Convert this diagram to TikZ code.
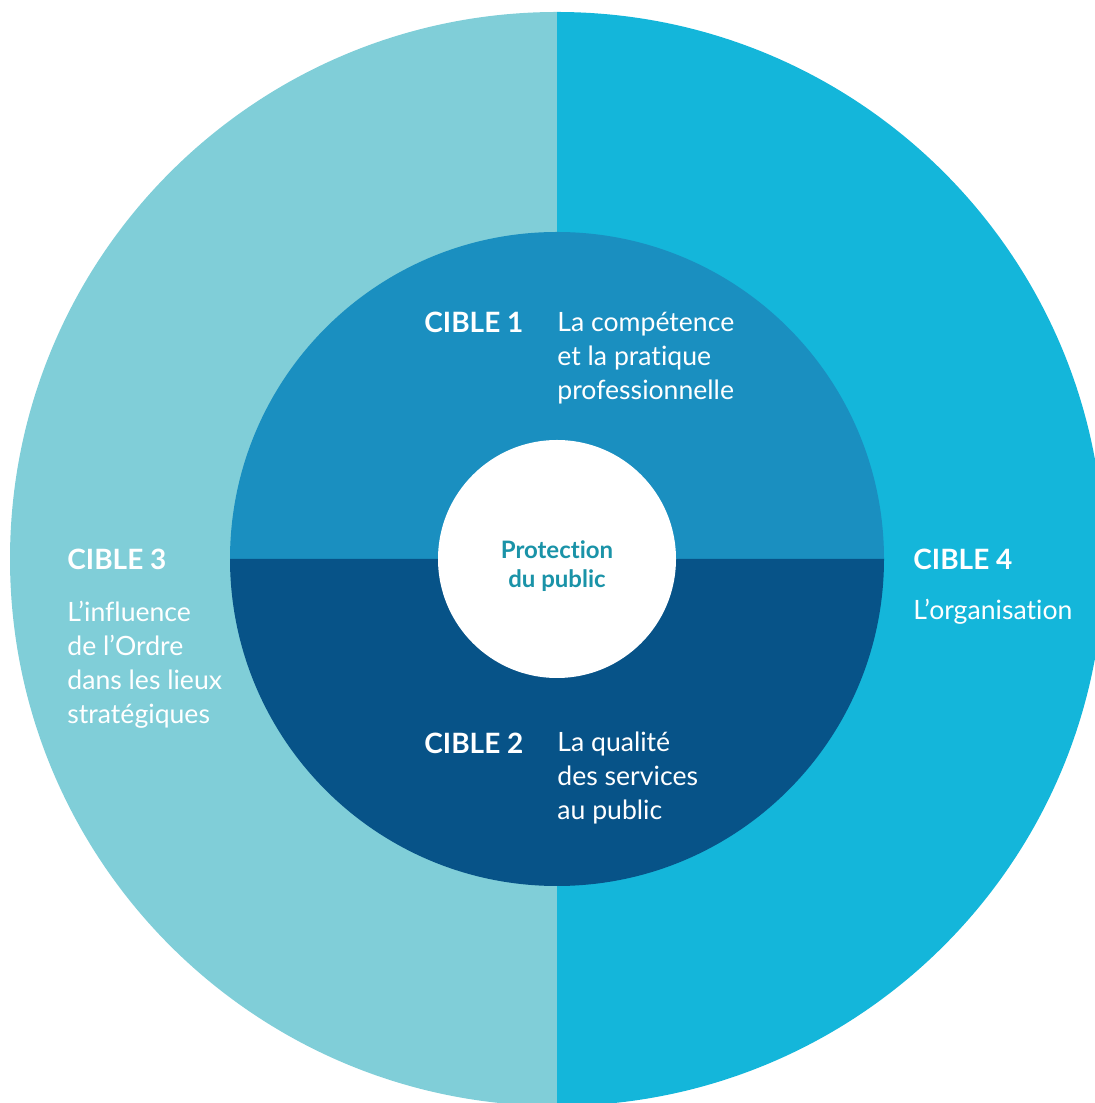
\documentclass[tikz,border=0pt]{standalone}
\usepackage{fontspec}
\setmainfont[RawFeature=-liga]{Lato}
\definecolor{paleteal}{HTML}{80CED8}
\definecolor{brightcyan}{HTML}{14B6DA}
\definecolor{midblue}{HTML}{1A8FC0}
\definecolor{deepblue}{HTML}{075388}
\definecolor{hubtext}{HTML}{1A93A8}
\tikzset{
  cible/.style={anchor=base west, text=white, font=\fontsize{14}{17}\selectfont\bfseries, inner sep=0pt},
  goal/.style={anchor=base west, text=white, align=left, font=\fontsize{13.3}{17}\selectfont, inner sep=0pt},
}
\begin{document}
\begin{tikzpicture}[x=0.5pt,y=0.5pt]
\useasboundingbox (0,0) rectangle (1095,1103);
\clip (0,0) rectangle (1095,1103);
\coordinate (c) at (557,544);
% outer ring
\fill[paleteal] (c) -- ++(90:547) arc[start angle=90,end angle=270,radius=547] -- cycle;
\fill[brightcyan] (c) -- ++(90:547) arc[start angle=90,end angle=-90,radius=547] -- cycle;
% inner disc
\fill[midblue] (c) -- ++(0:327) arc[start angle=0,end angle=180,radius=327] -- cycle;
\fill[deepblue] (c) -- ++(180:327) arc[start angle=180,end angle=360,radius=327] -- cycle;
% centre
\node[circle, fill=white, minimum size=119pt, inner sep=0pt] (hub) at (c) {};
\node[anchor=base, text=hubtext, align=center, inner sep=0pt,
  font=\fontsize{12}{14.5}\selectfont\bfseries] (hubtxt) at (557,515) {Protection\\du public};
% targets
\node[cible] (c1) at (424,770) {CIBLE 1};
\node[goal] (t1) at (557,703) {La compétence\\et la pratique\\professionnelle};
\node[cible] (c2) at (424,349) {CIBLE 2};
\node[goal] (t2) at (557,283) {La qualité\\des services\\au public};
\node[cible] (c3) at (67,533) {CIBLE 3};
\node[goal] (t3) at (67,379) {L’influence\\de l’Ordre\\dans les lieux\\stratégiques};
\node[cible] (c4) at (913,533) {CIBLE 4};
\node[goal] (t4) at (913,483) {L’organisation};
\end{tikzpicture}
\end{document}
